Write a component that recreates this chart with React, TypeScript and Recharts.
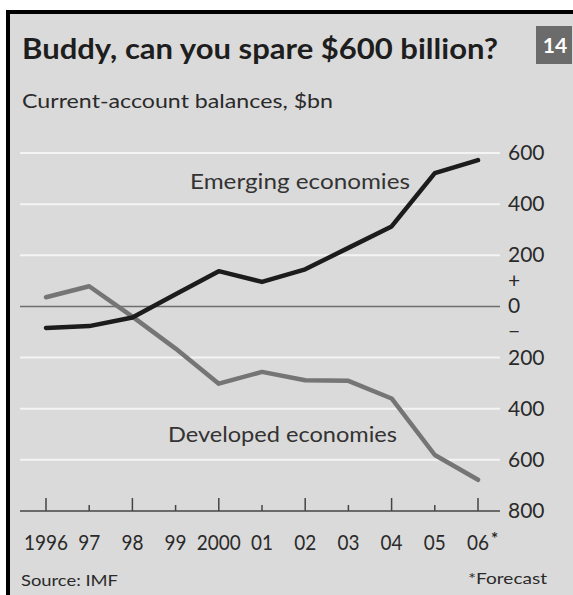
import React from "react";
import { LineChart, Line, XAxis, YAxis, ReferenceLine } from "recharts";

const years = [1996, 1997, 1998, 1999, 2000, 2001, 2002, 2003, 2004, 2005, 2006];
const yearLabels = ["1996", "97", "98", "99", "2000", "01", "02", "03", "04", "05", "06"];
const emerging = [-84, -77, -43, 48, 138, 96, 145, 229, 313, 521, 572];
const developed = [36, 79, -40, -165, -302, -256, -289, -291, -360, -581, -678];
const yTicks = [600, 400, 200, 100, 0, -100, -200, -400, -600, -800];
const gridValues = [600, 400, 200, -200, -400, -600];

const data = years.map((y, i) => ({ year: y, emerging: emerging[i], developed: developed[i] }));

const FONT = "Lato, 'Open Sans', sans-serif";
const TXT = "#2a2a2a";

const XTick = (props: any) => {
  const { x, y, payload } = props;
  const idx = years.indexOf(payload.value);
  const long = payload.value % 2 === 0;
  const label = yearLabels[idx];
  return (
    <g>
      <line x1={x} x2={x} y1={y} y2={y - (long ? 13 : 6)} stroke="#444" strokeWidth={1.5} />
      <text
        x={x}
        y={y + 39}
        textAnchor="middle"
        fontFamily={FONT}
        fontSize={21}
        fill={TXT}
        textLength={label.length * 11}
        lengthAdjust="spacingAndGlyphs"
      >
        {label}
      </text>
      {payload.value === 2006 && (
        <text x={x + 13} y={y + 34} textAnchor="start" fontFamily={FONT} fontSize={17} fontWeight={700} fill={TXT}>
          *
        </text>
      )}
    </g>
  );
};

const YTick = (props: any) => {
  const { x, y, payload } = props;
  const v = payload.value;
  const label = v === 100 ? "+" : v === -100 ? "\u2212" : String(Math.abs(v));
  return (
    <text x={x + 8} y={y + 7} textAnchor="start" fontFamily={FONT} fontSize={21} fill={TXT}>
      {label}
    </text>
  );
};

export default function App() {
  return (
    <div style={{ position: "absolute", left: 0, top: 0, width: 573, height: 595, background: "#fff", overflow: "hidden" }}>
      <div
        style={{
          position: "absolute",
          left: 6,
          top: 10,
          width: 580,
          height: 600,
          background: "#dadada",
          borderLeft: "4px solid #000",
          borderTop: "4px solid #000",
        }}
      />
      <div style={{ position: "absolute", left: 0, top: 0 }}>
        <LineChart width={573} height={595} data={data} margin={{ top: 153, left: 20, right: 13, bottom: 44 }}>
          {gridValues.map((g) => (
            <ReferenceLine key={g} y={g} stroke="#f4f4f4" strokeWidth={2} />
          ))}
          <ReferenceLine y={0} stroke="#6e6e6e" strokeWidth={1.5} />
          <XAxis
            dataKey="year"
            type="number"
            domain={[1996, 2006]}
            ticks={years}
            padding={{ left: 26, right: 22 }}
            height={40}
            tickSize={0}
            tickMargin={0}
            tickLine={false}
            axisLine={{ stroke: "#444", strokeWidth: 1.5 }}
            tick={<XTick />}
            interval={0}
          />
          <YAxis
            orientation="right"
            type="number"
            domain={[-800, 600]}
            ticks={yTicks}
            width={60}
            tickSize={0}
            tickMargin={0}
            tickLine={false}
            axisLine={false}
            tick={<YTick />}
            interval={0}
          />
          <Line
            dataKey="developed"
            type="linear"
            stroke="#757575"
            strokeWidth={4.5}
            dot={false}
            strokeLinejoin="round"
            strokeLinecap="round"
            isAnimationActive={false}
          />
          <Line
            dataKey="emerging"
            type="linear"
            stroke="#1c1c1c"
            strokeWidth={4.5}
            dot={false}
            strokeLinejoin="round"
            strokeLinecap="round"
            isAnimationActive={false}
          />
        </LineChart>
      </div>
      <svg width={573} height={595} style={{ position: "absolute", left: 0, top: 0, pointerEvents: "none" }}>
        <text x={22} y={59} fontFamily={FONT} fontWeight={700} fontSize={28} fill="#1e1e1e" textLength={476} lengthAdjust="spacingAndGlyphs">
          Buddy, can you spare $600 billion?
        </text>
        <text x={22} y={108} fontFamily={FONT} fontSize={20} fill={TXT} textLength={311} lengthAdjust="spacingAndGlyphs">
          Current-account balances, $bn
        </text>
        <rect x={536} y={26} width={36} height={38} fill="#6b6b6b" />
        <text x={555} y={53} textAnchor="middle" fontFamily={FONT} fontWeight={700} fontSize={21} fill="#fff">
          14
        </text>
        <text x={190} y={189} fontFamily={FONT} fontSize={21} fill="#333" textLength={220} lengthAdjust="spacingAndGlyphs">
          Emerging economies
        </text>
        <text x={168} y={442} fontFamily={FONT} fontSize={21} fill="#333" textLength={229} lengthAdjust="spacingAndGlyphs">
          Developed economies
        </text>
        <text x={21} y={586} fontFamily={FONT} fontSize={16} fill={TXT} textLength={97} lengthAdjust="spacingAndGlyphs">
          Source: IMF
        </text>
        <text x={468} y={584} fontFamily={FONT} fontSize={16} fill={TXT} textLength={79} lengthAdjust="spacingAndGlyphs">
          *Forecast
        </text>
      </svg>
    </div>
  );
}
